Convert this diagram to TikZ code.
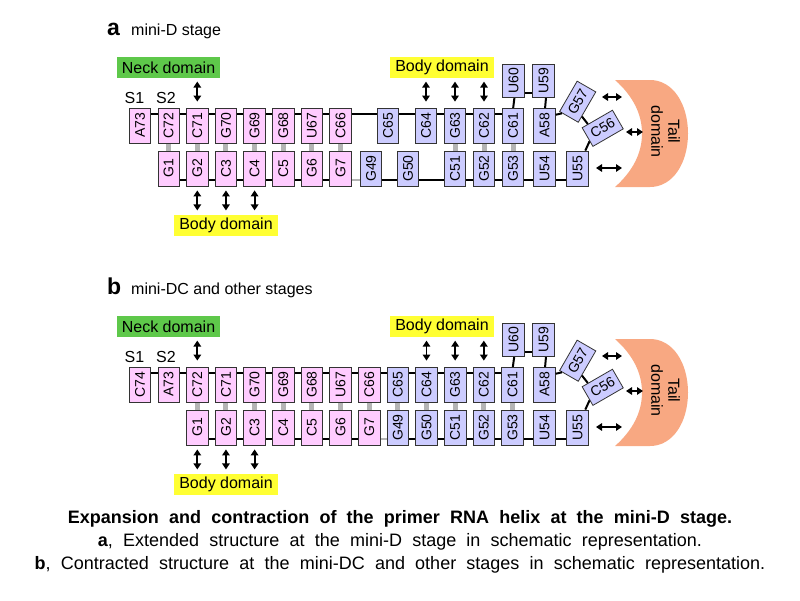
\documentclass[tikz,border=0pt]{standalone}
\usepackage{fontspec}
\setmainfont{Liberation Sans}
\usetikzlibrary{arrows.meta,calc}
\pgfdeclarelayer{bg}
\pgfdeclarelayer{paper}
\pgfsetlayers{paper,bg,main}
\definecolor{pinkc}{HTML}{FFCCFF}
\definecolor{lavc}{HTML}{CCCCFF}
\definecolor{neckc}{HTML}{5EC84A}
\definecolor{bodyc}{HTML}{FFFF33}
\definecolor{tailc}{HTML}{F8A882}
\definecolor{pairc}{HTML}{B4B4B4}
\definecolor{edgec}{HTML}{333333}
\newcommand{\mycapsp}{\spaceskip=10.2pt plus 1pt minus 1pt\relax}
\begin{document}
\begin{tikzpicture}[x=1pt,y=-1pt,
  nt/.style={draw=edgec, line width=0.8pt, minimum width=35pt, minimum height=21.5pt, inner sep=0pt, font=\fontsize{14}{14}\selectfont},
  pk/.style={nt, fill=pinkc, rotate=90},
  lv/.style={nt, fill=lavc, rotate=90},
  lvs/.style={nt, fill=lavc, rotate=90, minimum width=33pt},
  bb/.style={line width=2pt, black},
  gbb/.style={line width=2pt, pairc},
  pr/.style={line width=5pt, pairc},
  dar/.style={line width=1.8pt, {Triangle[width=7.5pt,length=6pt]}-{Triangle[width=7.5pt,length=6pt]}},
  dom/.style={inner xsep=5pt, inner ysep=0pt, minimum height=21pt, font=\fontsize{16}{16}\selectfont},
  lab/.style={inner sep=0pt, font=\fontsize{16}{16}\selectfont},
  captxt/.style={inner sep=0pt, font=\fontsize{18}{18}\selectfont},
  tailshape/.style={fill=tailc, draw=none}
]
\begin{pgfonlayer}{paper}
\fill[white] (0,0) rectangle (800,600);
\end{pgfonlayer}
\useasboundingbox (0,0) rectangle (800,600);

% ================= panel a =================
\node[inner sep=0pt, anchor=base west, font=\fontsize{23}{23}\selectfont\bfseries] (ha) at (107,35) {a};
\node[lab, anchor=base west, font=\fontsize{16}{16}\selectfont] (ta) at (131,35) {mini-D stage};

\foreach \n/\x/\c in {A73/140/pk, C72/168.65/pk, C71/197.3/pk, G70/225.95/pk, G69/254.6/pk, G68/283.25/pk, U67/311.9/pk, C66/340.55/pk, C65/388/lv, C64/426/lv, G63/455/lv, C62/484/lv, C61/513/lv, A58/544.5/lv}
  \node[\c] (a\n) at (\x,125.5) {\n};
\foreach \n/\x/\c in {G1/168.65/pk, G2/197.3/pk, C3/225.95/pk, C4/254.6/pk, C5/283.25/pk, G6/311.9/pk, G7/340.55/pk, G49/371/lv, G50/408/lv, C51/455/lv, G52/484/lv, G53/513/lv, U54/544.5/lv, U55/577.5/lv}
  \node[\c] (a\n) at (\x,168.5) {\n};
\node[lvs] (aU60) at (513.5,81) {U60};
\node[lvs] (aU59) at (543.5,81) {U59};
\node[nt, fill=lavc, rotate=60] (aG57) at (577.7,101.7) {G57};
\node[nt, fill=lavc, rotate=30] (aC56) at (602.7,128.3) {C56};

\begin{pgfonlayer}{bg}
  \foreach \p/\q in {A73/C72, C72/C71, C71/G70, G70/G69, G69/G68, G68/U67, U67/C66, C66/C65, C65/C64, C64/G63, G63/C62, C62/C61}
    \draw[bb] ([yshift=12pt]a\p.center) -- ([yshift=12pt]a\q.center);
  \foreach \p/\q in {G1/G2, G2/C3, C3/C4, C4/C5, C5/G6, G6/G7, G49/G50, G50/C51, C51/G52, G52/G53, G53/U54, U54/U55}
    \draw[bb] ([yshift=-11.5pt]a\p.center) -- ([yshift=-11.5pt]a\q.center);
  \draw[gbb] ([yshift=-11.5pt]aG7.center) -- ([yshift=-11.5pt]aG49.center);
  \foreach \p/\q in {C72/G1, C71/G2, G70/C3, G69/C4, G68/C5, U67/G6, C66/G7, G63/C51, C62/G52, C61/G53}
    \draw[pr] (a\p) -- (a\q);
  \draw[bb] ([xshift=3pt]aU60.center) -- ([xshift=-2pt]aC61.center);
  \draw[bb] ([yshift=-12pt]aU60.center) -- ([yshift=-12pt]aU59.center);
  \draw[bb] ([xshift=4pt]aU59.center) -- ([xshift=-1pt]aA58.center);
\end{pgfonlayer}
\draw[bb] ($(aA58.south east)!0.2!(aA58.south west)$) -- ($(aG57.north west)!0.15!(aG57.south west)$);
\draw[bb] ($(aG57.south)!0.6!(aG57.south west)$) -- ($(aC56.north)!0.6!(aC56.north west)$);
\draw[bb] ($(aC56.north west)!0.71!(aC56.south west)$) -- ($(aU55.east)!0.7!(aU55.south east)$);

\node[dom, fill=neckc] (aneck) at (168.5,67.5) {Neck domain};
\node[dom, fill=bodyc] (abody1) at (442,67.5) {Body domain};
\node[dom, fill=bodyc] (abody2) at (226,225) {Body domain};
\node[lab] (aS1) at (134.5,97.5) {S1};
\node[lab] (aS2) at (166,97.5) {S2};

\foreach \n in {C71, C64, G63, C62}
  \draw[dar] ([yshift=6pt]a\n.east) -- ([yshift=26pt]a\n.east);
\foreach \n in {G2, C3, C4}
  \draw[dar] ([yshift=-4pt]a\n.west) -- ([yshift=-24pt]a\n.west);

\path[tailshape] (615,80) -- (650,80) .. controls (673,80) and (688,104) .. (688,133.5) .. controls (688,163) and (673,187) .. (650,187) -- (615,187) .. controls (633,171) and (642,153) .. (642,133.5) .. controls (642,114) and (633,96) .. (615,80) -- cycle;
\node[inner sep=0pt, rotate=-90, align=center, font=\fontsize{16}{17}\selectfont] (atail) at (665.5,131.5) {Tail\\domain};
\coordinate (at1a) at (602,97);  \coordinate (at1b) at (622,97);
\coordinate (at2a) at (626,132); \coordinate (at2b) at (643,132);
\coordinate (at3a) at (596,168); \coordinate (at3b) at (622,168);
\draw[dar] (at1a) -- (at1b);
\draw[dar] (at2a) -- (at2b);
\draw[dar] (at3a) -- (at3b);

% ================= panel b =================
\begin{scope}[yshift=-259pt]
\node[inner sep=0pt, anchor=base west, font=\fontsize{23}{23}\selectfont\bfseries] (hb) at (107,35) {b};
\node[lab, anchor=base west, font=\fontsize{16}{16}\selectfont] (tb) at (131,35) {mini-DC and other stages};

\foreach \n/\x/\c in {C74/140/pk, A73/168.65/pk, C72/197.3/pk, C71/225.95/pk, G70/254.6/pk, G69/283.25/pk, G68/311.9/pk, U67/340.55/pk, C66/369.2/pk, C65/397.85/lv, C64/426.5/lv, G63/455.15/lv, C62/483.8/lv, C61/512.45/lv, A58/544.5/lv}
  \node[\c] (b\n) at (\x,125.5) {\n};
\foreach \n/\x/\c in {G1/197.3/pk, G2/225.95/pk, C3/254.6/pk, C4/283.25/pk, C5/311.9/pk, G6/340.55/pk, G7/369.2/pk, G49/397.85/lv, G50/426.5/lv, C51/455.15/lv, G52/483.8/lv, G53/512.45/lv, U54/544.5/lv, U55/577.5/lv}
  \node[\c] (b\n) at (\x,168.5) {\n};
\node[lvs] (bU60) at (513.5,81) {U60};
\node[lvs] (bU59) at (543.5,81) {U59};
\node[nt, fill=lavc, rotate=60] (bG57) at (577.7,101.7) {G57};
\node[nt, fill=lavc, rotate=30] (bC56) at (602.7,128.3) {C56};

\begin{pgfonlayer}{bg}
  \foreach \p/\q in {C74/A73, A73/C72, C72/C71, C71/G70, G70/G69, G69/G68, G68/U67, U67/C66, C66/C65, C65/C64, C64/G63, G63/C62, C62/C61}
    \draw[bb] ([yshift=12pt]b\p.center) -- ([yshift=12pt]b\q.center);
  \foreach \p/\q in {G1/G2, G2/C3, C3/C4, C4/C5, C5/G6, G6/G7, G49/G50, G50/C51, C51/G52, G52/G53, G53/U54, U54/U55}
    \draw[bb] ([yshift=-11.5pt]b\p.center) -- ([yshift=-11.5pt]b\q.center);
  \draw[gbb] ([yshift=-11.5pt]bG7.center) -- ([yshift=-11.5pt]bG49.center);
  \foreach \p/\q in {C72/G1, C71/G2, G70/C3, G69/C4, G68/C5, U67/G6, C66/G7, C65/G49, C64/G50, G63/C51, C62/G52, C61/G53}
    \draw[pr] (b\p) -- (b\q);
  \draw[bb] ([xshift=3pt]bU60.center) -- ([xshift=-2pt]bC61.center);
  \draw[bb] ([yshift=-12pt]bU60.center) -- ([yshift=-12pt]bU59.center);
  \draw[bb] ([xshift=4pt]bU59.center) -- ([xshift=-1pt]bA58.center);
\end{pgfonlayer}
\draw[bb] ($(bA58.south east)!0.2!(bA58.south west)$) -- ($(bG57.north west)!0.15!(bG57.south west)$);
\draw[bb] ($(bG57.south)!0.6!(bG57.south west)$) -- ($(bC56.north)!0.6!(bC56.north west)$);
\draw[bb] ($(bC56.north west)!0.71!(bC56.south west)$) -- ($(bU55.east)!0.7!(bU55.south east)$);

\node[dom, fill=neckc] (bneck) at (168.5,67.5) {Neck domain};
\node[dom, fill=bodyc] (bbody1) at (442,67.5) {Body domain};
\node[dom, fill=bodyc] (bbody2) at (226,225) {Body domain};
\node[lab] (bS1) at (134.5,97.5) {S1};
\node[lab] (bS2) at (166,97.5) {S2};

\foreach \n in {C72, C64, G63, C62}
  \draw[dar] ([yshift=6pt]b\n.east) -- ([yshift=26pt]b\n.east);
\foreach \n in {G1, G2, C3}
  \draw[dar] ([yshift=-4pt]b\n.west) -- ([yshift=-24pt]b\n.west);

\path[tailshape] (615,80) -- (650,80) .. controls (673,80) and (688,104) .. (688,133.5) .. controls (688,163) and (673,187) .. (650,187) -- (615,187) .. controls (633,171) and (642,153) .. (642,133.5) .. controls (642,114) and (633,96) .. (615,80) -- cycle;
\node[inner sep=0pt, rotate=-90, align=center, font=\fontsize{16}{17}\selectfont] (btail) at (665.5,131.5) {Tail\\domain};
\coordinate (bt1a) at (602,97);  \coordinate (bt1b) at (622,97);
\coordinate (bt2a) at (626,132); \coordinate (bt2b) at (643,132);
\coordinate (bt3a) at (596,168); \coordinate (bt3b) at (622,168);
\draw[dar] (bt1a) -- (bt1b);
\draw[dar] (bt2a) -- (bt2b);
\draw[dar] (bt3a) -- (bt3b);
\end{scope}

% ================= caption =================
\node[captxt] (cap1) at (400,519) {\mycapsp\bfseries Expansion and contraction of the primer RNA helix at the mini-D stage.};
\node[captxt] (cap2) at (400,542) {\mycapsp\textbf{a}, Extended structure at the mini-D stage in schematic representation.};
\node[captxt] (cap3) at (400,565) {\mycapsp\textbf{b}, Contracted structure at the mini-DC and other stages in schematic representation.};
\end{tikzpicture}
\end{document}
